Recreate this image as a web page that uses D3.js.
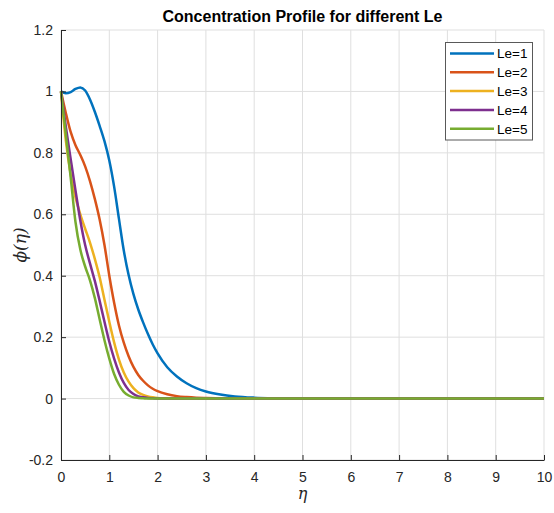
<!DOCTYPE html>
<html>
    <head>
        <title>Concentration Profile for different Le</title>
        <script src="https://d3js.org/d3.v7.min.js"></script>
        <style>
            body { margin: 0; background: #fff; }
            #myCanvas { width: 554px; height: 513px; display: block; }
            .tick text { font-family: "Liberation Sans", Arial, sans-serif; font-size: 14px; fill: #262626; }
        </style>
    </head>

    <body>
        <svg id="myCanvas"></svg>

        <script>
            // eta grid shared by every series
            var eta = [0, 0.1, 0.2, 0.3, 0.4, 0.5, 0.6, 0.7, 0.8, 0.9, 1.0,
                       1.1, 1.2, 1.3, 1.4, 1.5, 1.6, 1.7, 1.8, 1.9, 2.0,
                       2.2, 2.4, 2.6, 2.8, 3.0, 3.3, 3.6, 4.0, 4.5, 5, 6, 8, 10];

            var le1 = [1.0, 0.994, 0.998, 1.008, 1.013, 1.003, 0.974, 0.934, 0.888, 0.838, 0.775,
                       0.69, 0.585, 0.482, 0.402, 0.34, 0.29, 0.248, 0.21, 0.176, 0.147,
                       0.102, 0.072, 0.05, 0.034, 0.023, 0.013, 0.007, 0.003, 0.001, 0, 0, 0, 0];
            var le2 = [1.0, 0.93, 0.868, 0.825, 0.793, 0.756, 0.708, 0.65, 0.583, 0.5, 0.4,
                       0.312, 0.238, 0.182, 0.138, 0.103, 0.077, 0.058, 0.043, 0.032, 0.024,
                       0.014, 0.008, 0.005, 0.003, 0.002, 0.001, 0, 0, 0, 0, 0, 0, 0];
            var le3 = [1.0, 0.84, 0.73, 0.655, 0.6, 0.553, 0.508, 0.455, 0.395, 0.322, 0.25,
                       0.183, 0.127, 0.085, 0.055, 0.034, 0.02, 0.012, 0.007, 0.004, 0.002,
                       0.001, 0, 0, 0, 0, 0, 0, 0, 0, 0, 0, 0, 0];
            var le4 = [1.0, 0.885, 0.78, 0.678, 0.58, 0.5, 0.44, 0.383, 0.318, 0.25, 0.185,
                       0.13, 0.085, 0.051, 0.028, 0.015, 0.007, 0.004, 0.002, 0.001, 0,
                       0, 0, 0, 0, 0, 0, 0, 0, 0, 0, 0, 0, 0];
            var le5 = [1.0, 0.86, 0.72, 0.575, 0.485, 0.43, 0.385, 0.328, 0.258, 0.19, 0.13,
                       0.08, 0.045, 0.022, 0.01, 0.004, 0.002, 0.001, 0, 0, 0,
                       0, 0, 0, 0, 0, 0, 0, 0, 0, 0, 0, 0, 0];

            var names = ["Le=1", "Le=2", "Le=3", "Le=4", "Le=5"];
            var colors = ["#0072BD", "#D95319", "#EDB120", "#7E2F8E", "#77AC30"];
            var xTicks = [0, 1, 2, 3, 4, 5, 6, 7, 8, 9, 10];
            var yTicks = [-0.2, 0, 0.2, 0.4, 0.6, 0.8, 1, 1.2];

            var series = [le1, le2, le3, le4, le5];

            var svg = d3.select("#myCanvas");
            var mLeft = 61, mRight = 544, mTop = 30, mBottom = 460;

            var x = d3.scaleLinear([0, 10], [mLeft, mRight]);
            var y = d3.scaleLinear([-0.2, 1.2], [mBottom, mTop]);

            // grid
            svg.append("g").selectAll("line").data(xTicks).join("line")
                .attr("x1", d => x(d)).attr("x2", d => x(d))
                .attr("y1", mTop).attr("y2", mBottom)
                .attr("stroke", "#dfdfdf").attr("stroke-width", 1);
            svg.append("g").selectAll("line").data(yTicks).join("line")
                .attr("y1", d => y(d)).attr("y2", d => y(d))
                .attr("x1", mLeft).attr("x2", mRight)
                .attr("stroke", "#dfdfdf").attr("stroke-width", 1);

            // curves
            var line = d3.line()
                .x((d, i) => x(eta[i]))
                .y(d => y(d))
                .curve(d3.curveMonotoneX);

            svg.append("g").selectAll("path").data(series).join("path")
                .attr("d", d => line(d))
                .attr("fill", "none")
                .attr("stroke", (d, i) => colors[i])
                .attr("stroke-width", 2.5)
                .attr("stroke-linejoin", "round");

            // axes
            var xAxis = d3.axisBottom(x).tickValues(xTicks).tickSizeInner(-5).tickSizeOuter(0)
                .tickPadding(12).tickFormat(d3.format("d"));
            var gx = svg.append("g").attr("transform", "translate(0," + mBottom + ")").call(xAxis);
            gx.select(".domain").attr("stroke", "#262626");
            gx.selectAll(".tick line").attr("stroke", "#262626");

            var yAxis = d3.axisLeft(y).tickValues(yTicks).tickSizeInner(-5).tickSizeOuter(0)
                .tickPadding(8).tickFormat(d => String(Math.round(d * 10) / 10));
            var gy = svg.append("g").attr("transform", "translate(" + mLeft + ",0)").call(yAxis);
            gy.select(".domain").attr("stroke", "#262626");
            gy.selectAll(".tick line").attr("stroke", "#262626");

            // title and labels
            svg.append("text")
                .attr("x", (mLeft + mRight) / 2).attr("y", 22)
                .attr("text-anchor", "middle")
                .style("font-family", "'Liberation Sans Narrow', 'Liberation Sans', Arial, sans-serif")
                .style("font-weight", "bold").style("font-size", "16px")
                .attr("fill", "#000")
                .text("Concentration Profile for different Le");

            svg.append("text")
                .attr("x", (mLeft + mRight) / 2).attr("y", 499)
                .attr("text-anchor", "middle")
                .style("font-family", "'DejaVu Serif', serif").style("font-style", "italic")
                .style("font-size", "16px").attr("fill", "#262626")
                .text("η");

            svg.append("text")
                .attr("transform", "translate(26," + y(0.5) + ") rotate(-90)")
                .attr("text-anchor", "middle")
                .style("font-family", "'DejaVu Serif', serif").style("font-style", "italic")
                .style("font-size", "17px").attr("fill", "#262626")
                .text("ϕ(η)");

            // legend
            var lg = svg.append("g");
            lg.append("rect")
                .attr("x", 445.5).attr("y", 42.5).attr("width", 87).attr("height", 97.5)
                .attr("fill", "#fff").attr("stroke", "#595959").attr("stroke-width", 1);
            var rows = lg.selectAll("g").data(names).join("g")
                .attr("transform", (d, i) => "translate(0," + (53.5 + i * 18.8) + ")");
            rows.append("line")
                .attr("x1", 450).attr("x2", 494)
                .attr("stroke", (d, i) => colors[i]).attr("stroke-width", 2.5);
            rows.append("text")
                .attr("x", 497).attr("dy", "0.36em")
                .style("font-family", "'Liberation Sans', Arial, sans-serif").style("font-size", "13.5px")
                .attr("fill", "#000")
                .text(d => d);
        </script>
    </body>
</html>
